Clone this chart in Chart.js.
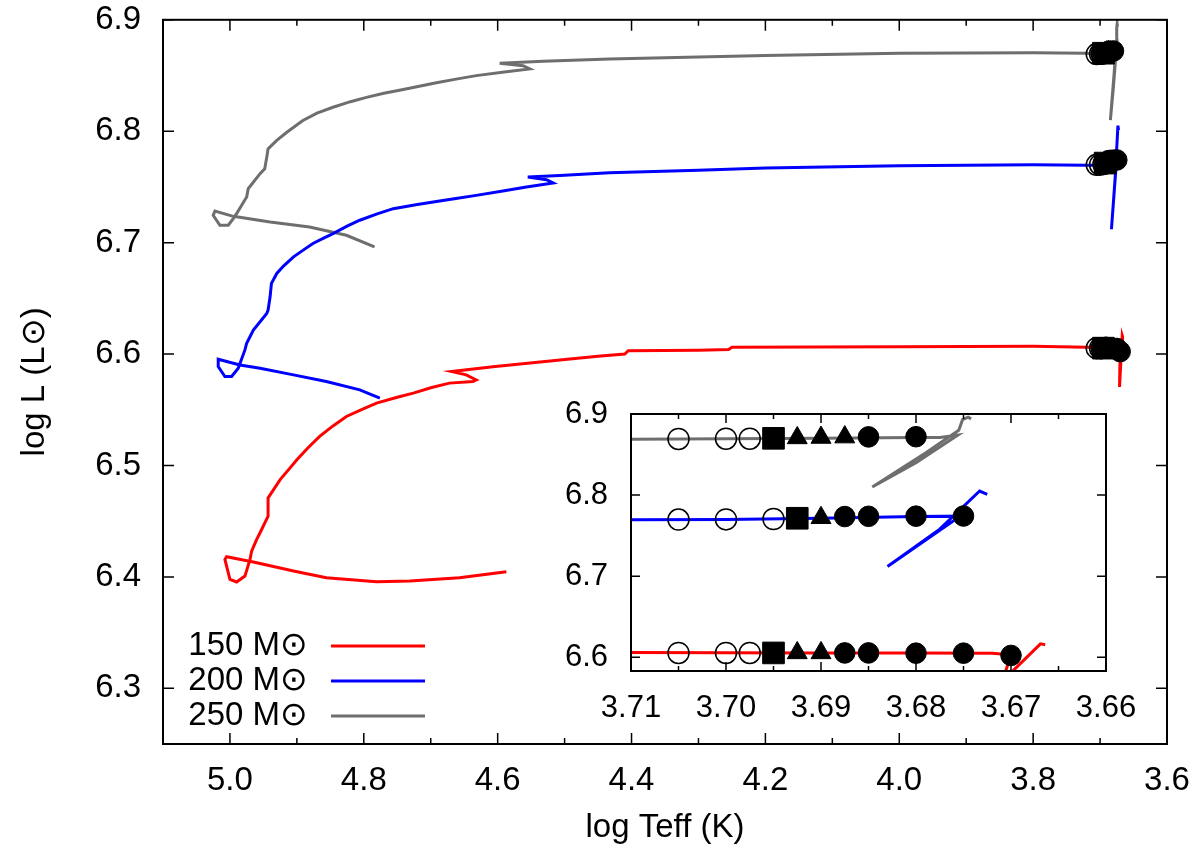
<!DOCTYPE html>
<html lang="en">
<head>
<meta charset="utf-8">
<title>Tracks in the HR diagram</title>
<script src="https://cdn.jsdelivr.net/npm/chart.js@4.4.0/dist/chart.umd.min.js"></script>
<style>
  body { margin: 0; background: #fff; }
  #wrap { position: relative; width: 1200px; height: 854px; }
  #main { position: absolute; left: 0; top: 0; }
  #inset { position: absolute; left: 560px; top: 390px; }
</style>
</head>
<body>
<div id="wrap">
  <canvas id="main" width="1200" height="854"></canvas>
  <canvas id="inset" width="580" height="340"></canvas>
</div>

<script>
// evolutionary tracks, log Teff / log L
const t150 = [4.587, 4.657, 4.731, 4.781, 4.856, 4.905, 4.965, 5.005, 5.0075, 5.0, 4.99, 4.9776, 4.970, 4.9676, 4.960, 4.955, 4.943, 4.943, 4.925, 4.912, 4.900, 4.884, 4.866, 4.846, 4.826, 4.800, 4.781, 4.750, 4.726, 4.700, 4.672, 4.637, 4.632, 4.647, 4.669, 4.607, 4.507, 4.45, 4.41, 4.405, 4.30, 4.255, 4.25, 4.0, 3.8, 3.72, 3.71, 3.70, 3.69, 3.68, 3.672, 3.670, 3.6709, 3.6669, 3.6664];
const l150 = [6.4047, 6.3993, 6.3962, 6.3957, 6.3993, 6.4052, 6.4133, 6.4181, 6.4157, 6.3978, 6.3954, 6.4007, 6.4157, 6.423, 6.4336, 6.4396, 6.4545, 6.4709, 6.4873, 6.4965, 6.5052, 6.5155, 6.5261, 6.5355, 6.5440, 6.5510, 6.5559, 6.5612, 6.5649, 6.5697, 6.5739, 6.5753, 6.5768, 6.5813, 6.5843, 6.5887, 6.5947, 6.598, 6.600, 6.603, 6.6035, 6.604, 6.606, 6.6065, 6.607, 6.6062, 6.6058, 6.6055, 6.6053, 6.6051, 6.605, 6.6030, 6.5705, 6.6165, 6.6155];

const t200 = [4.776, 4.806, 4.856, 4.905, 4.955, 4.985, 5.0175, 5.0175, 5.0075, 4.9975, 4.9876, 4.9776, 4.975, 4.965, 4.945, 4.943, 4.940, 4.938, 4.930, 4.920, 4.905, 4.890, 4.876, 4.860, 4.846, 4.825, 4.806, 4.780, 4.756, 4.720, 4.6915, 4.660, 4.632, 4.590, 4.557, 4.517, 4.527, 4.555, 4.507, 4.433, 4.3, 4.2, 4.0, 3.8, 3.72, 3.71, 3.70, 3.69, 3.68, 3.6752, 3.6762, 3.6830, 3.6775, 3.6733, 3.6725];
const l200 = [6.5604, 6.5679, 6.5753, 6.5813, 6.5873, 6.5902, 6.5953, 6.5887, 6.5798, 6.5798, 6.5873, 6.6037, 6.6097, 6.6216, 6.6365, 6.6395, 6.6514, 6.6634, 6.6723, 6.6790, 6.6872, 6.6935, 6.6992, 6.7040, 6.7081, 6.7148, 6.7201, 6.7258, 6.7305, 6.7343, 6.7370, 6.7398, 6.7424, 6.7465, 6.7499, 6.7535, 6.7565, 6.7588, 6.7603, 6.7628, 6.765, 6.767, 6.769, 6.770, 6.7695, 6.7695, 6.770, 6.7715, 6.7735, 6.774, 6.767, 6.712, 6.758, 6.805, 6.801];

const t250 = [4.784, 4.826, 4.881, 4.940, 4.995, 5.0224, 5.025, 5.015, 5.0025, 4.9925, 4.975, 4.9727, 4.955, 4.948, 4.945, 4.943, 4.930, 4.915, 4.891, 4.870, 4.846, 4.820, 4.796, 4.770, 4.741, 4.6915, 4.660, 4.632, 4.590, 4.552, 4.562, 4.597, 4.532, 4.433, 4.2, 4.0, 3.8, 3.72, 3.71, 3.70, 3.69, 3.68, 3.6775, 3.6756, 3.6800, 3.6846, 3.6790, 3.6755, 3.6751, 3.6745, 3.6742];
const l250 = [6.6962, 6.7066, 6.7141, 6.7185, 6.7236, 6.7284, 6.7245, 6.7156, 6.7156, 6.7236, 6.7409, 6.7484, 6.7619, 6.7663, 6.7767, 6.7842, 6.7917, 6.7991, 6.8096, 6.8163, 6.8215, 6.8265, 6.8304, 6.8340, 6.8375, 6.8435, 6.8470, 6.8499, 6.8532, 6.8559, 6.8588, 6.8609, 6.8627, 6.8648, 6.868, 6.870, 6.8705, 6.870, 6.869, 6.8695, 6.870, 6.871, 6.871, 6.874, 6.840, 6.810, 6.852, 6.880, 6.893, 6.896, 6.894];

// marked models along each track
const open150T = [3.705, 3.700, 3.6975];
const open150L = [6.6053, 6.6053, 6.6053];
const sq150T = [3.695];
const sq150L = [6.6053];
const tri150T = [3.6925, 3.690];
const tri150L = [6.6053, 6.6053];
const fill150T = [3.6875, 3.685, 3.680, 3.675, 3.670];
const fill150L = [6.6053, 6.6053, 6.6050, 6.6050, 6.6022];

const open200T = [3.705, 3.700, 3.695];
const open200L = [6.7698, 6.7700, 6.7705];
const sq200T = [3.6925];
const sq200L = [6.7714];
const tri200T = [3.690];
const tri200L = [6.7720];
const fill200T = [3.6875, 3.685, 3.680, 3.675];
const fill200L = [6.7735, 6.7738, 6.7740, 6.7742];

const open250T = [3.705, 3.700, 3.6975];
const open250L = [6.8692, 6.8695, 6.8695];
const sq250T = [3.695];
const sq250L = [6.8700];
const tri250T = [3.6925, 3.690, 3.6875];
const tri250L = [6.8705, 6.8710, 6.8715];
const fill250T = [3.685, 3.680];
const fill250L = [6.8718, 6.8720];

const trackLabels = ['150 M\u2299', '200 M\u2299', '250 M\u2299'];
const trackColors = ['#ff0000', '#0000ff', '#6e6e6e'];

// tick values
const mainXTicks = [5.0, 4.8, 4.6, 4.4, 4.2, 4.0, 3.8, 3.6];
const mainXMinor = [4.9, 4.7, 4.5, 4.3, 4.1, 3.9, 3.7];
const mainYTicks = [6.3, 6.4, 6.5, 6.6, 6.7, 6.8, 6.9];
const insetXTicks = [3.71, 3.70, 3.69, 3.68, 3.67, 3.66];
const insetXMinor = [3.705, 3.695, 3.685, 3.675, 3.665];
const insetYTicks = [6.6, 6.7, 6.8, 6.9];

const FONT = '"Liberation Sans", Arial, Helvetica, sans-serif';
Chart.defaults.font.family = FONT;
Chart.defaults.color = '#000';

function pts(xs, ys) {
  return xs.map((v, i) => ({x: v, y: ys[i]}));
}

const tracks = [[t150, l150], [t200, l200], [t250, l250]];
const markers = [
  [open150T, open150L, 'open'], [sq150T, sq150L, 'square'], [tri150T, tri150L, 'tri'], [fill150T, fill150L, 'fill'],
  [open200T, open200L, 'open'], [sq200T, sq200L, 'square'], [tri200T, tri200L, 'tri'], [fill200T, fill200L, 'fill'],
  [open250T, open250L, 'open'], [sq250T, sq250L, 'square'], [tri250T, tri250L, 'tri'], [fill250T, fill250L, 'fill']
];

function buildDatasets() {
  const ds = [];
  markers.forEach(m => {
    const kind = m[2];
    const d = {data: pts(m[0], m[1]), showLine: false, borderColor: '#000', order: 1};
    if (kind == 'open') {
      Object.assign(d, {pointStyle: 'circle', pointRadius: 10.5, borderWidth: 1.5, backgroundColor: 'rgba(0,0,0,0)'});
    } else if (kind == 'square') {
      Object.assign(d, {pointStyle: 'rect', pointRadius: 15.3, borderWidth: 1, backgroundColor: '#000'});
    } else if (kind == 'tri') {
      Object.assign(d, {pointStyle: 'triangle', pointRadius: 11.5, borderWidth: 1, backgroundColor: '#000'});
    } else {
      Object.assign(d, {pointStyle: 'circle', pointRadius: 10.3, borderWidth: 1, backgroundColor: '#000'});
    }
    ds.push(d);
  });
  tracks.forEach((tr, i) => {
    ds.push({
      label: trackLabels[i],
      data: pts(tr[0], tr[1]),
      showLine: true,
      borderColor: trackColors[i],
      borderWidth: 3,
      pointRadius: 0,
      tension: 0,
      order: 2
    });
  });
  return ds;
}

// gnuplot-like frame: border plus inward ticks on all four sides
const frameTicks = {
  id: 'frameTicks',
  afterDraw(chart, args, o) {
    const {ctx, chartArea: a} = chart;
    const x = chart.scales.x, y = chart.scales.y;
    ctx.save();
    ctx.strokeStyle = '#000';
    ctx.lineWidth = o.tickWidth;
    ctx.beginPath();
    const xt = (v, len) => {
      const px = x.getPixelForValue(v);
      ctx.moveTo(px, a.bottom); ctx.lineTo(px, a.bottom - len);
      ctx.moveTo(px, a.top); ctx.lineTo(px, a.top + len);
    };
    x.ticks.forEach(t => xt(t.value, o.major));
    o.minorX.forEach(v => xt(v, o.minor));
    y.ticks.forEach(t => {
      const py = y.getPixelForValue(t.value);
      ctx.moveTo(a.left, py); ctx.lineTo(a.left + o.major, py);
      ctx.moveTo(a.right, py); ctx.lineTo(a.right - o.major, py);
    });
    ctx.stroke();
    ctx.lineWidth = o.borderWidth;
    ctx.strokeRect(a.left, a.top, a.right - a.left, a.bottom - a.top);
    ctx.restore();
  }
};

// key in the lower left corner: label right-aligned, line sample after it
const trackKey = {
  id: 'trackKey',
  afterDraw(chart, args, o) {
    const ctx = chart.ctx;
    ctx.save();
    ctx.font = o.size + 'px ' + FONT;
    ctx.textAlign = 'right';
    ctx.textBaseline = 'middle';
    ctx.fillStyle = '#000';
    trackLabels.forEach((lab, i) => {
      const yy = o.top + i * o.gap;
      ctx.fillText(lab, o.textRight, yy);
      ctx.strokeStyle = trackColors[i];
      ctx.lineWidth = 3;
      ctx.beginPath();
      ctx.moveTo(o.lineStart, yy);
      ctx.lineTo(o.lineEnd, yy);
      ctx.stroke();
    });
    ctx.restore();
  }
};

function setTicks(list) {
  return s => { s.ticks = list.map(v => ({value: v})); };
}

// invisible tick marks: only used to push the labels away from the frame
function hiddenGrid(len) {
  return {display: true, drawOnChartArea: false, drawTicks: true, tickLength: len, color: 'rgba(0,0,0,0)'};
}

new Chart(document.getElementById('main'), {
  type: 'scatter',
  data: {datasets: buildDatasets()},
  plugins: [frameTicks, trackKey],
  options: {
    responsive: false,
    animation: false,
    events: [],
    devicePixelRatio: 1,
    layout: {padding: {left: 0, right: 33, top: 19, bottom: 0}},
    plugins: {
      legend: {display: false},
      tooltip: {enabled: false},
      frameTicks: {major: 11, minor: 6, minorX: mainXMinor, tickWidth: 1.5, borderWidth: 2},
      trackKey: {size: 33, top: 646, gap: 35, textRight: 308, lineStart: 331, lineEnd: 425}
    },
    scales: {
      x: {
        type: 'linear', reverse: true, min: 3.6, max: 5.1,
        afterBuildTicks: setTicks(mainXTicks),
        afterFit: s => { s.height = 110; },
        grid: hiddenGrid(17),
        border: {display: false},
        ticks: {padding: 0, font: {size: 33}, color: '#000', maxRotation: 0, autoSkip: false,
                callback: v => Number(v).toFixed(1)},
        title: {display: true, text: 'log Teff (K)', font: {size: 33}, color: '#000', padding: {top: 0, bottom: 6}}
      },
      y: {
        type: 'linear', min: 6.25, max: 6.9,
        afterBuildTicks: setTicks(mainYTicks),
        afterFit: s => { s.width = 163; },
        grid: hiddenGrid(22),
        border: {display: false},
        ticks: {padding: 0, font: {size: 33}, color: '#000', autoSkip: false,
                callback: v => Number(v).toFixed(1)},
        title: {display: true, text: 'log L (L\u2299)', font: {size: 33}, color: '#000', padding: {top: 15, bottom: 0}}
      }
    }
  }
});

new Chart(document.getElementById('inset'), {
  type: 'scatter',
  data: {datasets: buildDatasets()},
  plugins: [frameTicks],
  options: {
    responsive: false,
    animation: false,
    events: [],
    devicePixelRatio: 1,
    layout: {padding: {left: 0, right: 34, top: 24, bottom: 0}},
    plugins: {
      legend: {display: false},
      tooltip: {enabled: false},
      frameTicks: {major: 9, minor: 5, minorX: insetXMinor, tickWidth: 1.5, borderWidth: 2}
    },
    scales: {
      x: {
        type: 'linear', reverse: true, min: 3.66, max: 3.71,
        afterBuildTicks: setTicks(insetXTicks),
        afterFit: s => { s.height = 59; },
        grid: hiddenGrid(19),
        border: {display: false},
        ticks: {padding: 0, font: {size: 31}, color: '#000', maxRotation: 0, autoSkip: false,
                callback: v => Number(v).toFixed(2)}
      },
      y: {
        type: 'linear', min: 6.583, max: 6.9,
        afterBuildTicks: setTicks(insetYTicks),
        afterFit: s => { s.width = 71; },
        grid: hiddenGrid(23),
        border: {display: false},
        ticks: {padding: 0, font: {size: 31}, color: '#000', autoSkip: false,
                callback: v => Number(v).toFixed(1)}
      }
    }
  }
});
</script>
</body>
</html>
